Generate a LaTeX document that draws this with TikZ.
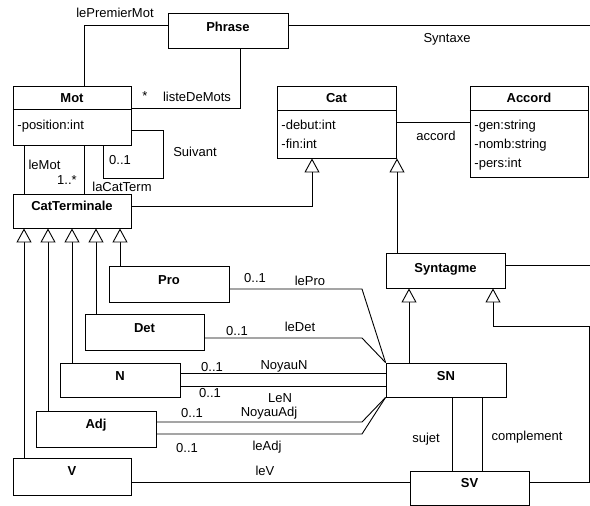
\documentclass[tikz,border=0pt]{standalone}
\usepackage{fontspec}
\setmainfont{Liberation Sans}
\usetikzlibrary{arrows.meta}
\begin{document}
\begin{tikzpicture}[x=1bp,y=-1bp, line width=0.9bp,
  cls/.style={draw, rectangle, inner sep=0pt},
  ttl/.style={font=\bfseries\fontsize{13bp}{15bp}\selectfont, inner sep=0pt, text height=9.3bp, text depth=0pt},
  lbl/.style={font=\fontsize{13bp}{15bp}\selectfont, inner sep=0pt, text height=9.3bp, text depth=0pt},
  attr/.style={lbl, anchor=west},
  gen/.style={-{Triangle[open, width=15bp, length=14bp, fill=white]}}]
\useasboundingbox (0,0) rectangle (590,506);

% class boxes
\node[cls, minimum width=120bp, minimum height=35bp] (phrase) at (228,30.5) {};
\node[cls, minimum width=118bp, minimum height=59bp] (mot) at (72,115.5) {};
\node[cls, minimum width=119bp, minimum height=72bp] (cat) at (336.5,122) {};
\node[cls, minimum width=118bp, minimum height=91bp] (accord) at (529,131.5) {};
\node[cls, minimum width=118bp, minimum height=34bp] (catt) at (72,211) {};
\node[cls, minimum width=119bp, minimum height=35bp] (syntagme) at (445.5,270.5) {};
\node[cls, minimum width=120bp, minimum height=36bp] (pro) at (169,284) {};
\node[cls, minimum width=119bp, minimum height=36bp] (det) at (144.5,332) {};
\node[cls, minimum width=120bp, minimum height=34bp] (n) at (120,380) {};
\node[cls, minimum width=120bp, minimum height=36bp] (adj) at (96,429) {};
\node[cls, minimum width=118bp, minimum height=37bp] (v) at (72,476.5) {};
\node[cls, minimum width=120bp, minimum height=34bp] (sn) at (446,380) {};
\node[cls, minimum width=119bp, minimum height=34bp] (sv) at (469.5,488) {};

% compartment separators
\draw (mot.west |- 0,109) -- (mot.east |- 0,109);
\draw (cat.west |- 0,110) -- (cat.east |- 0,110);
\draw (accord.west |- 0,110) -- (accord.east |- 0,110);

% titles
\node[ttl] (tphrase) at (228,27) {Phrase};
\node[ttl] (tmot) at (72,98) {Mot};
\node[ttl] (tcat) at (336.5,98) {Cat};
\node[ttl] (taccord) at (529,98) {Accord};
\node[ttl] (tcatt) at (72,206) {CatTerminale};
\node[ttl] (tsyntagme) at (445.5,268) {Syntagme};
\node[ttl] (tpro) at (169,280) {Pro};
\node[ttl] (tdet) at (144.5,328) {Det};
\node[ttl] (tn) at (120,376) {N};
\node[ttl] (tadj) at (96,424) {Adj};
\node[ttl] (tv) at (72,471) {V};
\node[ttl] (tsn) at (446,376) {SN};
\node[ttl] (tsv) at (469.5,483) {SV};

% attributes
\node[attr] (amot) at (17,125) {-position:int};
\node[attr] (acat1) at (281,125) {-debut:int};
\node[attr] (acat2) at (281,144) {-fin:int};
\node[attr] (aacc1) at (474,125) {-gen:string};
\node[attr] (aacc2) at (474,144) {-nomb:string};
\node[attr] (aacc3) at (474,163) {-pers:int};

% free ends at the right edge
\coordinate (edgeA) at (590,25);
\coordinate (edgeB) at (590,265);

% associations
\draw (phrase.west |- 0,25) -- (84,25) -- (84,0 |- mot.north);
\draw (phrase.east |- 0,25) -- (edgeA);
\draw (240,0 |- phrase.south) -- (240,108) -- (mot.east |- 0,108);
\draw (24,0 |- mot.south) -- (24,0 |- catt.north);
\draw (84,0 |- mot.south) -- (84,0 |- catt.north);
\draw (103,0 |- mot.south) -- (103,178) -- (163,178) -- (163,130) -- (mot.east |- 0,130);
\draw (cat.east |- 0,122) -- (accord.west |- 0,122);
\draw (syntagme.east |- 0,265) -- (edgeB);
\draw (pro.east |- 0,289) -- (362,289) -- (sn.north west);
\draw (det.east |- 0,338) -- (362,338) -- (sn.north west);
\draw (n.east |- 0,373) -- (sn.west |- 0,373);
\draw (n.east |- 0,386) -- (sn.west |- 0,386);
\draw (adj.east |- 0,422) -- (362,422) -- (sn.south west);
\draw (adj.east |- 0,434) -- (362,434) -- (sn.south west);
\draw (v.east |- 0,482) -- (sv.west |- 0,482);
\draw (452,0 |- sn.south) -- (452,0 |- sv.north);
\draw (482,0 |- sn.south) -- (482,0 |- sv.north);

% generalizations
\draw[gen] (catt.east |- 0,206) -- (312,206) -- (312,0 |- cat.south);
\draw[gen] (397,0 |- syntagme.north) -- (397,0 |- cat.south);
\draw[gen] (409,0 |- sn.north) -- (409,0 |- syntagme.south);
\draw[gen] (sv.east |- 0,482) -- (589,482) -- (589,326) -- (493,326) -- (493,0 |- syntagme.south);
\draw[gen] (120,0 |- pro.north) -- (120,0 |- catt.south);
\draw[gen] (96,0 |- det.north) -- (96,0 |- catt.south);
\draw[gen] (72,0 |- n.north) -- (72,0 |- catt.south);
\draw[gen] (48,0 |- adj.north) -- (48,0 |- catt.south);
\draw[gen] (24,0 |- v.north) -- (24,0 |- catt.south);

% labels
\node[lbl] (l1) at (115,13) {lePremierMot};
\node[lbl] (l2) at (447,38) {Syntaxe};
\node[lbl] (l3) at (145,96) {*};
\node[lbl] (l4) at (197,97) {listeDeMots};
\node[lbl] (l5) at (195,152) {Suivant};
\node[lbl] (l6) at (120,160) {0..1};
\node[lbl] (l7) at (44.5,165) {leMot};
\node[lbl] (l8) at (67,180) {1..*};
\node[lbl] (l9) at (122,187) {laCatTerm};
\node[lbl] (l10) at (436,136) {accord};
\node[lbl] (l11) at (255,278) {0..1};
\node[lbl] (l12) at (310,281) {lePro};
\node[lbl] (l13) at (237,331) {0..1};
\node[lbl] (l14) at (300,327) {leDet};
\node[lbl] (l15) at (212,367) {0..1};
\node[lbl] (l16) at (284,365) {NoyauN};
\node[lbl] (l17) at (210,393) {0..1};
\node[lbl] (l18) at (280,398) {LeN};
\node[lbl] (l19) at (192,413) {0..1};
\node[lbl] (l20) at (269,412) {NoyauAdj};
\node[lbl] (l21) at (187,448) {0..1};
\node[lbl] (l22) at (267,446) {leAdj};
\node[lbl] (l23) at (265,471) {leV};
\node[lbl] (l24) at (426,438) {sujet};
\node[lbl] (l25) at (527,436) {complement};
\end{tikzpicture}
\end{document}
